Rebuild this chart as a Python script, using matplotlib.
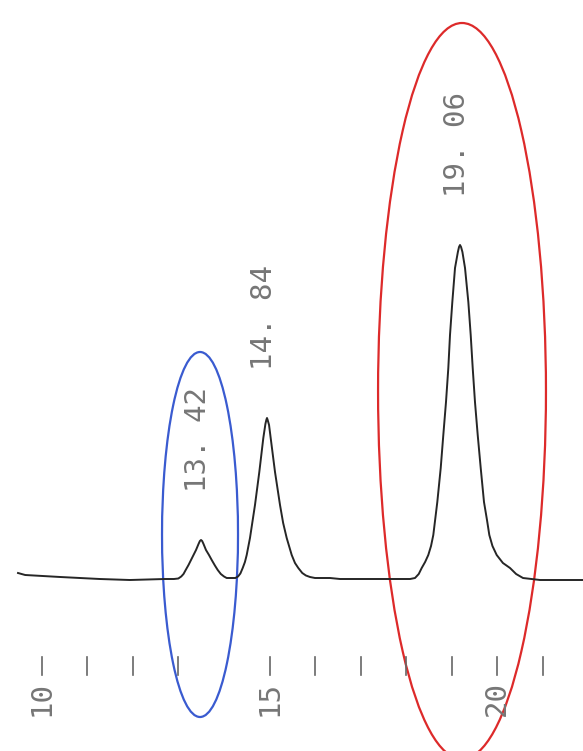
import numpy as np
import matplotlib.pyplot as plt
from matplotlib.patches import Ellipse

# 크로마토그램 trace (그림에서 읽은 값, time [min] / signal)
trace_time = [9.473, 9.63, 10.40, 11.27, 11.93, 12.70, 12.90, 12.996, 13.06, 13.11,
              13.158, 13.22, 13.275, 13.33, 13.385, 13.44, 13.47, 13.495, 13.52, 13.55,
              13.604, 13.67, 13.730, 13.80, 13.862, 13.93, 14.00, 14.059, 14.20,
              14.25, 14.308, 14.36, 14.411, 14.46, 14.499, 14.571, 14.681, 14.776,
              14.864, 14.91, 14.93, 14.945, 14.96, 14.99, 15.026, 15.121, 15.231,
              15.30, 15.378, 15.488, 15.56, 15.633, 15.72, 15.80, 15.890, 16.0,
              16.33, 16.55, 17.43, 18.09, 18.198, 18.28, 18.345, 18.42, 18.490,
              18.55, 18.600, 18.688, 18.763, 18.820, 18.879, 18.930, 18.967, 19.018,
              19.077, 19.14, 19.165, 19.187, 19.21, 19.24, 19.297, 19.370, 19.422,
              19.466, 19.516, 19.576, 19.642, 19.714, 19.78, 19.831, 19.90, 19.993,
              20.13, 20.286, 20.42, 20.571, 20.945, 21.89]
trace_signal = [5, 3, 1, -1, -2, -1, -1, -0.5, 1.5, 4,
                8, 13, 18, 23, 28, 34, 37, 38, 37, 34,
                28, 23, 18, 12.5, 8, 4, 1.5, 0, 0,
                0, 1.5, 4.5, 10, 16, 23, 40, 73, 106,
                140, 154, 158, 160, 158, 153, 140, 106, 73,
                55, 40, 23, 15, 10, 5, 2.5, 1, 0,
                0, -1, -1, -1, 0, 4, 10, 16, 23,
                32, 43, 76, 110, 143, 176, 210, 243, 276,
                310, 326, 331, 333, 331, 326, 310, 276, 243,
                210, 176, 143, 110, 76, 58, 43, 32, 23,
                15, 10, 4, 0, -2, -2]

# 피크 retention time 라벨
peak_labels = ["13. 42", "14. 84", "19. 06"]
peak_windows = [(12.9, 14.2), (14.3, 16.0), (18.1, 20.6)]

# x축 눈금 (14는 안보임)
tick_minutes = [10, 11, 12, 13, 15, 16, 17, 18, 19, 20, 21]
major_ticks = [10, 15, 20]

t = np.array(trace_time)
s = np.array(trace_signal)

fig = plt.figure(figsize=(5.83, 7.51), dpi=100)
ax = fig.add_axes([0, 0, 1, 1])
ax.set_xlim(9.077, 21.89)
ax.set_ylim(-173, 578)
ax.axis('off')

ax.plot(t, s, color='#262626', lw=1.4, solid_joinstyle='round')

font = dict(family='DejaVu Sans Mono', fontsize=21, color='#767676')

# 피크 위 라벨 (apex 기준)
for lab, (lo, hi) in zip(peak_labels, peak_windows):
    m = (t >= lo) & (t <= hi)
    i = np.argmax(s[m])
    ax.text(t[m][i] - 0.06, s[m][i] + 48, lab, rotation=90,
            ha='center', va='bottom', **font)

# 눈금
for tm in tick_minutes:
    ax.plot([tm, tm], [-79, -97], color='#666666', lw=1.2)
for tm in major_ticks:
    ax.text(tm, -120, str(tm), rotation=90, ha='center', va='center', **font)

# 표시용 타원
ax.add_patch(Ellipse((13.473, 43.5), 1.67, 365, fill=False,
                     edgecolor='#3a5bd0', lw=1.6))
ax.add_patch(Ellipse((19.231, 187), 3.69, 736, fill=False,
                     edgecolor='#dd2a2a', lw=1.6))

fig.savefig('out.png', dpi=100)
